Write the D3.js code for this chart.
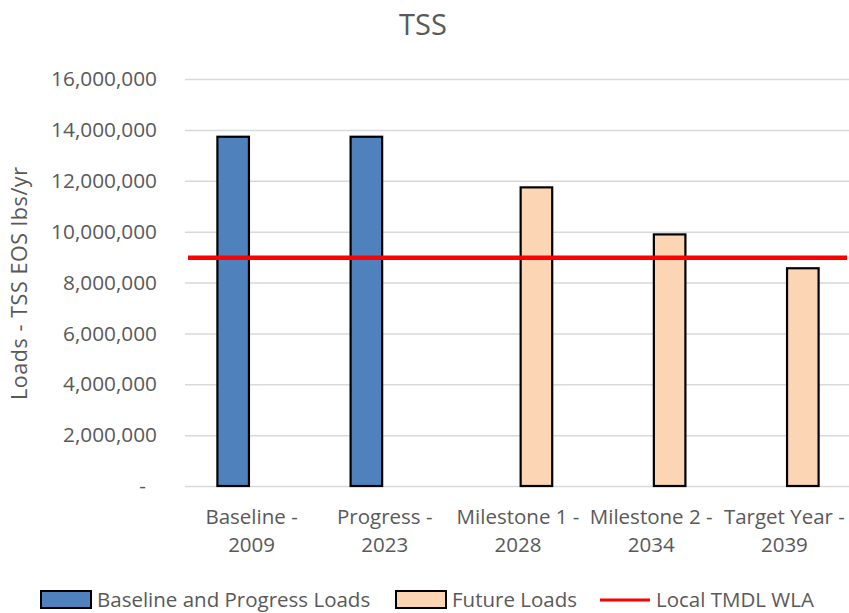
<!DOCTYPE html>
<html>
<head>
<meta charset="utf-8">
<script src="https://cdn.jsdelivr.net/npm/d3@7"></script>
<style>
  html, body { margin: 0; padding: 0; background: #fff; }
  svg { display: block; font-family: "Open Sans", "Noto Sans", sans-serif; }
</style>
</head>
<body>
<svg id="chart" width="849" height="613"></svg>
<script>
// TSS loads by milestone (lbs/yr, edge-of-stream)
const categories = [
  ["Baseline -", "2009"],
  ["Progress -", "2023"],
  ["Milestone 1 -", "2028"],
  ["Milestone 2 -", "2034"],
  ["Target Year -", "2039"]
];
const seriesNames = ["Baseline and Progress Loads", "Future Loads", "Local TMDL WLA"];
const baselineProgressLoads = [13730000, 13730000, null, null, null];
const futureLoads = [null, null, 11740000, 9890000, 8560000];
const tmdlWla = [8970000, 8970000, 8970000, 8970000, 8970000];
const yTicks = [0, 2000000, 4000000, 6000000, 8000000, 10000000, 12000000, 14000000, 16000000];

const svg = d3.select("#chart");
const textColor = "#595959";
const plot = { left: 185, right: 851, top: 79, bottom: 486 };

const catKeys = categories.map(c => c.join(" "));
const x = d3.scaleBand().domain(catKeys).range([plot.left, plot.right]).paddingInner(0).paddingOuter(0);
const bw = x.bandwidth();
const xInner = d3.scaleBand()
  .domain([seriesNames[0], seriesNames[1]])
  .range([bw / 2 - 34.2, bw / 2 + 34.2])
  .paddingInner(0.144).paddingOuter(0);
const y = d3.scaleLinear().domain([0, 16000000]).range([plot.bottom, plot.top]);

// Title
svg.append("text")
  .attr("x", 423).attr("y", 35)
  .attr("text-anchor", "middle")
  .attr("font-size", 29)
  .attr("fill", textColor)
  .text("TSS");

// Gridlines + y tick labels
const fmt = d3.format(",");
const yAxis = d3.axisLeft(y)
  .tickValues(yTicks)
  .tickSize(-(plot.right - plot.left))
  .tickPadding(28)
  .tickFormat(d => d === 0 ? "-" : fmt(d));
const gy = svg.append("g")
  .attr("transform", `translate(${plot.left},0)`)
  .call(yAxis);
gy.select(".domain").remove();
gy.selectAll(".tick line").attr("stroke", "#d9d9d9").attr("stroke-width", 1.5);
gy.selectAll(".tick text")
  .attr("fill", textColor)
  .attr("font-size", 20.8)
  .attr("font-family", "'Open Sans', sans-serif")
  .attr("dx", d => d === 0 ? -11 : 0);

// Y axis title
svg.append("text")
  .attr("transform", `translate(27,${(plot.top + plot.bottom) / 2 + 1}) rotate(-90)`)
  .attr("text-anchor", "middle")
  .attr("font-size", 21.5)
  .attr("textLength", 233)
  .attr("lengthAdjust", "spacing")
  .attr("fill", textColor)
  .text("Loads - TSS EOS lbs/yr");

// Bars
const barSeries = [
  { name: seriesNames[0], values: baselineProgressLoads, fill: "#4f81bd" },
  { name: seriesNames[1], values: futureLoads, fill: "#fcd5b5" }
];
barSeries.forEach(s => {
  svg.append("g").selectAll("rect")
    .data(s.values.map((v, i) => ({ v, k: catKeys[i] })).filter(d => d.v != null))
    .join("rect")
    .attr("x", d => x(d.k) + xInner(s.name))
    .attr("width", xInner.bandwidth())
    .attr("y", d => y(d.v))
    .attr("height", d => y(0) - y(d.v))
    .attr("fill", s.fill)
    .attr("stroke", "#000")
    .attr("stroke-width", 2.2);
});

// TMDL WLA line spanning the plot
const xLine = d3.scalePoint().domain(catKeys).range([plot.left + 3, plot.right - 4]);
svg.append("path")
  .datum(tmdlWla.map((v, i) => [xLine(catKeys[i]), y(v)]))
  .attr("d", d3.line())
  .attr("fill", "none")
  .attr("stroke", "#ff0000")
  .attr("stroke-width", 4.5);

// Category labels
const gx = svg.append("g");
categories.forEach((lines, i) => {
  const t = gx.append("text")
    .attr("text-anchor", "middle")
    .attr("font-size", 20.5)
    .attr("fill", textColor);
  lines.forEach((ln, j) => {
    t.append("tspan")
      .attr("x", x(catKeys[i]) + bw / 2)
      .attr("y", 524 + j * 28)
      .text(ln);
  });
});

// Legend
const legend = svg.append("g").attr("font-size", 20.5).attr("fill", textColor);
const legendItems = [
  { name: seriesNames[0], type: "rect", fill: "#4f81bd", x: 41 },
  { name: seriesNames[1], type: "rect", fill: "#fcd5b5", x: 396 },
  { name: seriesNames[2], type: "line", fill: "#ff0000", x: 600 }
];
legendItems.forEach(it => {
  if (it.type === "rect") {
    legend.append("rect")
      .attr("x", it.x).attr("y", 591).attr("width", 50).attr("height", 17)
      .attr("fill", it.fill).attr("stroke", "#000").attr("stroke-width", 2);
  } else {
    legend.append("line")
      .attr("x1", it.x).attr("x2", it.x + 50).attr("y1", 600).attr("y2", 600)
      .attr("stroke", it.fill).attr("stroke-width", 3);
  }
  legend.append("text")
    .attr("x", it.x + 56).attr("y", 607)
    .text(it.name);
});
</script>
</body>
</html>
